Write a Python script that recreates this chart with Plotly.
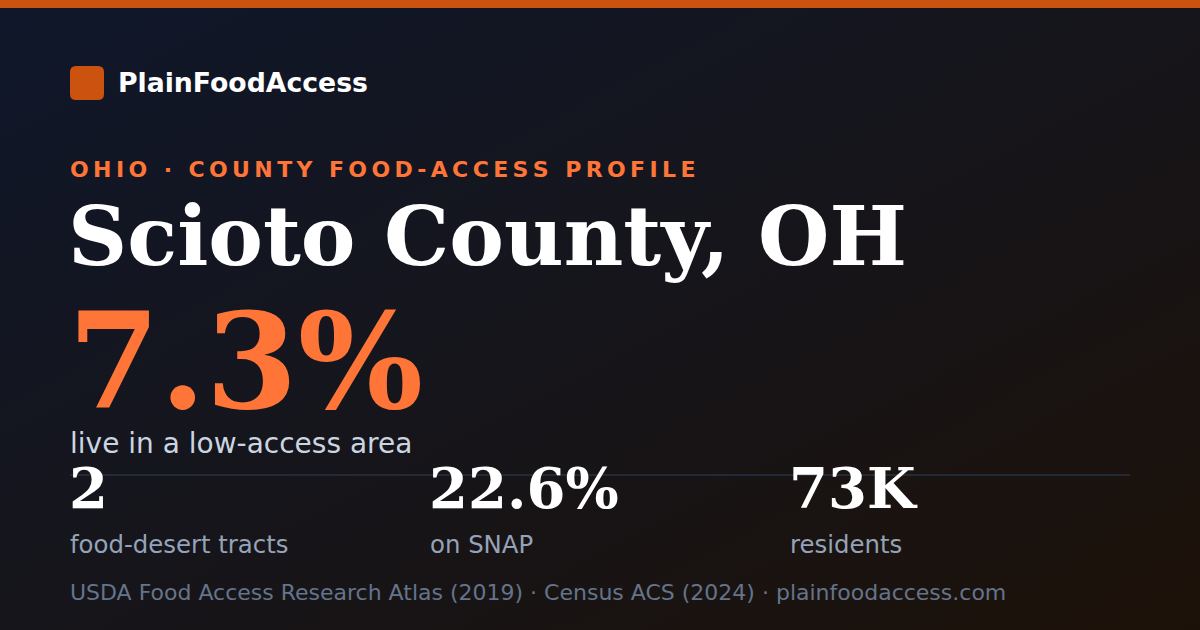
import base64
import plotly.graph_objects as go

BRAND = "PlainFoodAccess"
EYEBROW = "OHIO · COUNTY FOOD-ACCESS PROFILE"
COUNTY = "Scioto County, OH"
HEADLINE_VALUE = "7.3%"
HEADLINE_LABEL = "live in a low-access area"
STAT_VALUES = ["2", "22.6%", "73K"]
STAT_LABELS = ["food-desert tracts", "on SNAP", "residents"]
STAT_X = [70, 430, 790]
SOURCE_LINE = "USDA Food Access Research Atlas (2019) · Census ACS (2024) · plainfoodaccess.com"

W, H = 1200, 630
ORANGE = "#ff7538"
SANS = "DejaVu Sans"
SERIF = "DejaVu Serif"

bg_svg = f"""<svg xmlns='http://www.w3.org/2000/svg' width='{W}' height='{H}'>
<defs><linearGradient id='g' x1='0' y1='0' x2='1' y2='1'>
<stop offset='0' stop-color='#0f172a'/><stop offset='0.5' stop-color='#16151b'/>
<stop offset='1' stop-color='#1c1108'/></linearGradient></defs>
<rect width='{W}' height='{H}' fill='url(#g)'/></svg>"""
bg_uri = "data:image/svg+xml;base64," + base64.b64encode(bg_svg.encode()).decode()


def px_y(y):
    return 1 - y / H


def px_x(x):
    return x / W


def spaced(s):
    return "\u2009".join(s)


fig = go.Figure()

fig.add_layout_image(dict(source=bg_uri, xref="paper", yref="paper", x=0, y=1,
                          sizex=1, sizey=1, xanchor="left", yanchor="top",
                          sizing="stretch", layer="below"))

shapes = [
    dict(type="rect", xref="paper", yref="paper", x0=0, x1=1, y0=px_y(8), y1=1,
         fillcolor="#cc5210", line_width=0),
    dict(type="path", xref="paper", yref="paper",
         path="M {0},{1} L {2},{1} Q {3},{1} {3},{4} L {3},{5} Q {3},{6} {2},{6} L {0},{6} Q {7},{6} {7},{5} L {7},{4} Q {7},{1} {0},{1} Z".format(
             px_x(76), px_y(66), px_x(98), px_x(104), px_y(72), px_y(94), px_y(100), px_x(70)),
         fillcolor="#cc5210", line_width=0),
    dict(type="line", xref="paper", yref="paper", x0=px_x(70), x1=px_x(1130),
         y0=px_y(475), y1=px_y(475), line=dict(color="#232a36", width=2)),
]

annotations = []


def label(text, x, y, size, color, family=SANS, bold=False):
    t = f"<b>{text}</b>" if bold else text
    annotations.append(dict(text=t, x=px_x(x), y=px_y(y), xref="paper", yref="paper",
                            xanchor="left", yanchor="middle", showarrow=False,
                            font=dict(family=family, size=size, color=color)))


label(BRAND, 116, 83, 26.7, "#ffffff", bold=True)
label(spaced(EYEBROW), 68, 170, 22, ORANGE, bold=True)
label(COUNTY, 66, 236, 82, "#ffffff", family=SERIF, bold=True)
label(HEADLINE_VALUE, 66, 361, 132, ORANGE, family=SERIF, bold=True)
label(HEADLINE_LABEL, 68, 443, 28, "#cbd5e1")
for sx, val, lab in zip(STAT_X, STAT_VALUES, STAT_LABELS):
    label(val, sx - 3, 488, 56, "#ffffff", family=SERIF, bold=True)
    label(lab, sx - 2, 544, 24.4, "#94a3b8")
label(SOURCE_LINE, 68, 592, 22, "#64748b")

fig.update_layout(
    width=W, height=H,
    margin=dict(l=0, r=0, t=0, b=0),
    paper_bgcolor="#131520", plot_bgcolor="rgba(0,0,0,0)",
    xaxis=dict(visible=False, range=[0, 1]),
    yaxis=dict(visible=False, range=[0, 1]),
    shapes=shapes, annotations=annotations,
    showlegend=False,
)

fig.write_html("out.html", config={"displayModeBar": False},
               post_script="document.body.style.margin='0';")
